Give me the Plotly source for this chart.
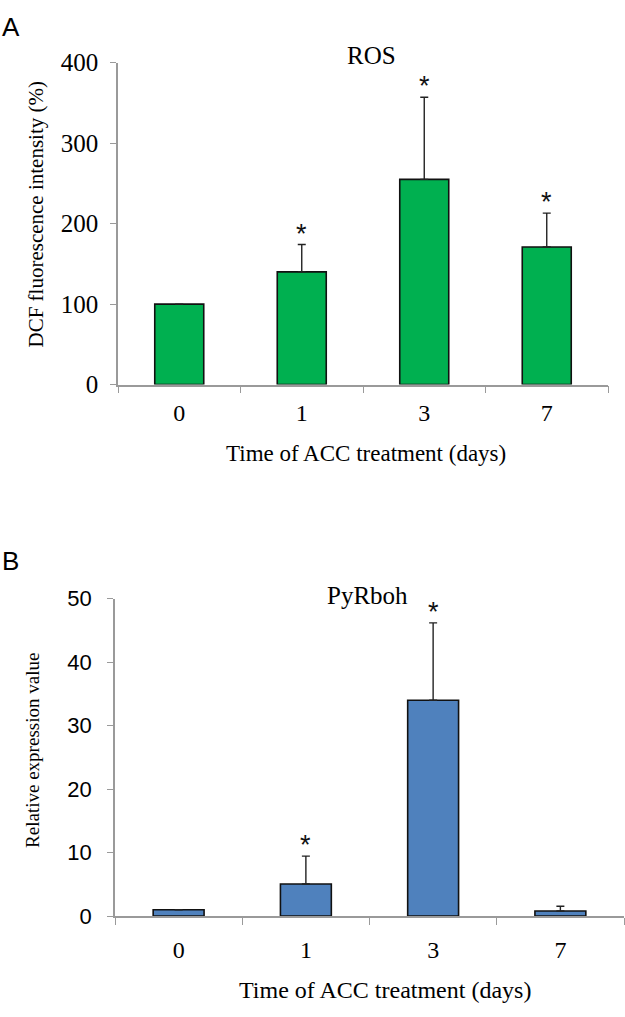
import plotly.graph_objects as go

W, H = 625, 1017

days = ["0", "1", "3", "7"]

ros_values = [100, 140, 255, 171]
ros_errors = [0, 34, 102, 42]
ros_stars = ["", "*", "*", "*"]

rboh_values = [1.0, 5.05, 34.0, 0.8]
rboh_errors = [0, 4.4, 12.2, 0.75]
rboh_stars = ["", "*", "*", ""]

GREEN = "#00B050"
BLUE = "#4F81BD"
AXIS = "#9A9A9A"
SERIF = "Liberation Serif"
SANS = "Liberation Sans"


def px(x):
    return x / W


def py(y):
    return 1 - y / H


fig = go.Figure()

fig.add_trace(go.Bar(
    x=days, y=ros_values, xaxis="x", yaxis="y",
    marker=dict(color=GREEN, line=dict(color="#111111", width=1.6)),
    error_y=dict(type="data", array=ros_errors, arrayminus=[0] * 4, symmetric=False,
                 color="#222222", thickness=1.4, width=4),
    showlegend=False,
))
fig.add_trace(go.Bar(
    x=days, y=rboh_values, xaxis="x2", yaxis="y2",
    marker=dict(color=BLUE, line=dict(color="#111111", width=1.6)),
    error_y=dict(type="data", array=rboh_errors, arrayminus=[0] * 4, symmetric=False,
                 color="#222222", thickness=1.4, width=4),
    showlegend=False,
))

common_x = dict(type="category", tickson="boundaries", ticks="outside", ticklen=7,
                tickcolor=AXIS, tickwidth=1.3, showline=True, linecolor=AXIS, linewidth=1.5,
                showgrid=False, zeroline=False, range=[-0.5, 3.5],
                tickfont=dict(family=SERIF, size=24, color="black"))
common_y = dict(ticks="outside", ticklen=6, tickcolor=AXIS, tickwidth=1.3, showline=True,
                linecolor=AXIS, linewidth=1.5, showgrid=False, zeroline=False)

fig.update_layout(
    width=W, height=H,
    margin=dict(l=0, r=0, t=0, b=0),
    paper_bgcolor="white", plot_bgcolor="white",
    bargap=0.6,
    xaxis=dict(common_x, domain=[px(118), px(608)], anchor="y", ticklabelstandoff=6),
    yaxis=dict(common_y, domain=[py(381.7), py(51)], anchor="x", range=[0, 400], dtick=100,
               tickfont=dict(family=SERIF, size=25, color="black"), ticklabelstandoff=7),
    xaxis2=dict(common_x, domain=[px(115), px(624)], anchor="y2", ticklabelstandoff=11),
    yaxis2=dict(common_y, domain=[py(927.7), py(601.7)], anchor="x2", range=[0, 50], dtick=10,
                tickfont=dict(family=SANS, size=22, color="black"), ticklabelstandoff=11),
)

ann = []
# star markers above error bars (positioned by category index)
for vals, errs, stars, xr, yr in [(ros_values, ros_errors, ros_stars, "x", "y"),
                                  (rboh_values, rboh_errors, rboh_stars, "x2", "y2")]:
    for i, (v, e, s) in enumerate(zip(vals, errs, stars)):
        if s:
            ann.append(dict(x=i, y=v + e, xref=xr, yref=yr, text=s, showarrow=False,
                            yanchor="bottom", yshift=-6,
                            font=dict(family=SANS, size=27, color="#111111")))

# panel letters
ann.append(dict(x=px(0), y=py(14), xref="paper", yref="paper", text="A", showarrow=False,
                xanchor="left", yanchor="middle", font=dict(family=SANS, size=26, color="black")))
ann.append(dict(x=px(0), y=py(563), xref="paper", yref="paper", text="B", showarrow=False,
                xanchor="left", yanchor="middle", font=dict(family=SANS, size=26, color="black")))

# chart titles
ann.append(dict(x=px(372), y=py(44), xref="paper", yref="paper", text="ROS", showarrow=False,
                xanchor="center", yanchor="middle", font=dict(family=SERIF, size=25, color="black")))
ann.append(dict(x=px(367), y=py(598), xref="paper", yref="paper", text="PyRboh", showarrow=False,
                xanchor="center", yanchor="middle", font=dict(family=SERIF, size=25, color="black")))

# axis titles
ann.append(dict(x=px(36), y=py(207), xref="paper", yref="paper", text="DCF fluorescence intensity (%)",
                showarrow=False, textangle=-90, xanchor="center", yanchor="middle",
                font=dict(family=SERIF, size=21, color="black")))
ann.append(dict(x=px(33), y=py(758), xref="paper", yref="paper", text="Relative expression value",
                showarrow=False, textangle=-90, xanchor="center", yanchor="middle",
                font=dict(family=SERIF, size=19, color="black")))
ann.append(dict(x=px(366), y=py(452), xref="paper", yref="paper", text="Time of ACC treatment (days)",
                showarrow=False, xanchor="center", yanchor="middle",
                font=dict(family=SERIF, size=23, color="black")))
ann.append(dict(x=px(385), y=py(1004), xref="paper", yref="paper", text="Time of ACC treatment (days)",
                showarrow=False, xanchor="center", yanchor="middle",
                font=dict(family=SERIF, size=24, color="black")))

fig.update_layout(annotations=ann)

fig.write_html("out.html", config={"displayModeBar": False},
               post_script="document.body.style.margin='0';")
